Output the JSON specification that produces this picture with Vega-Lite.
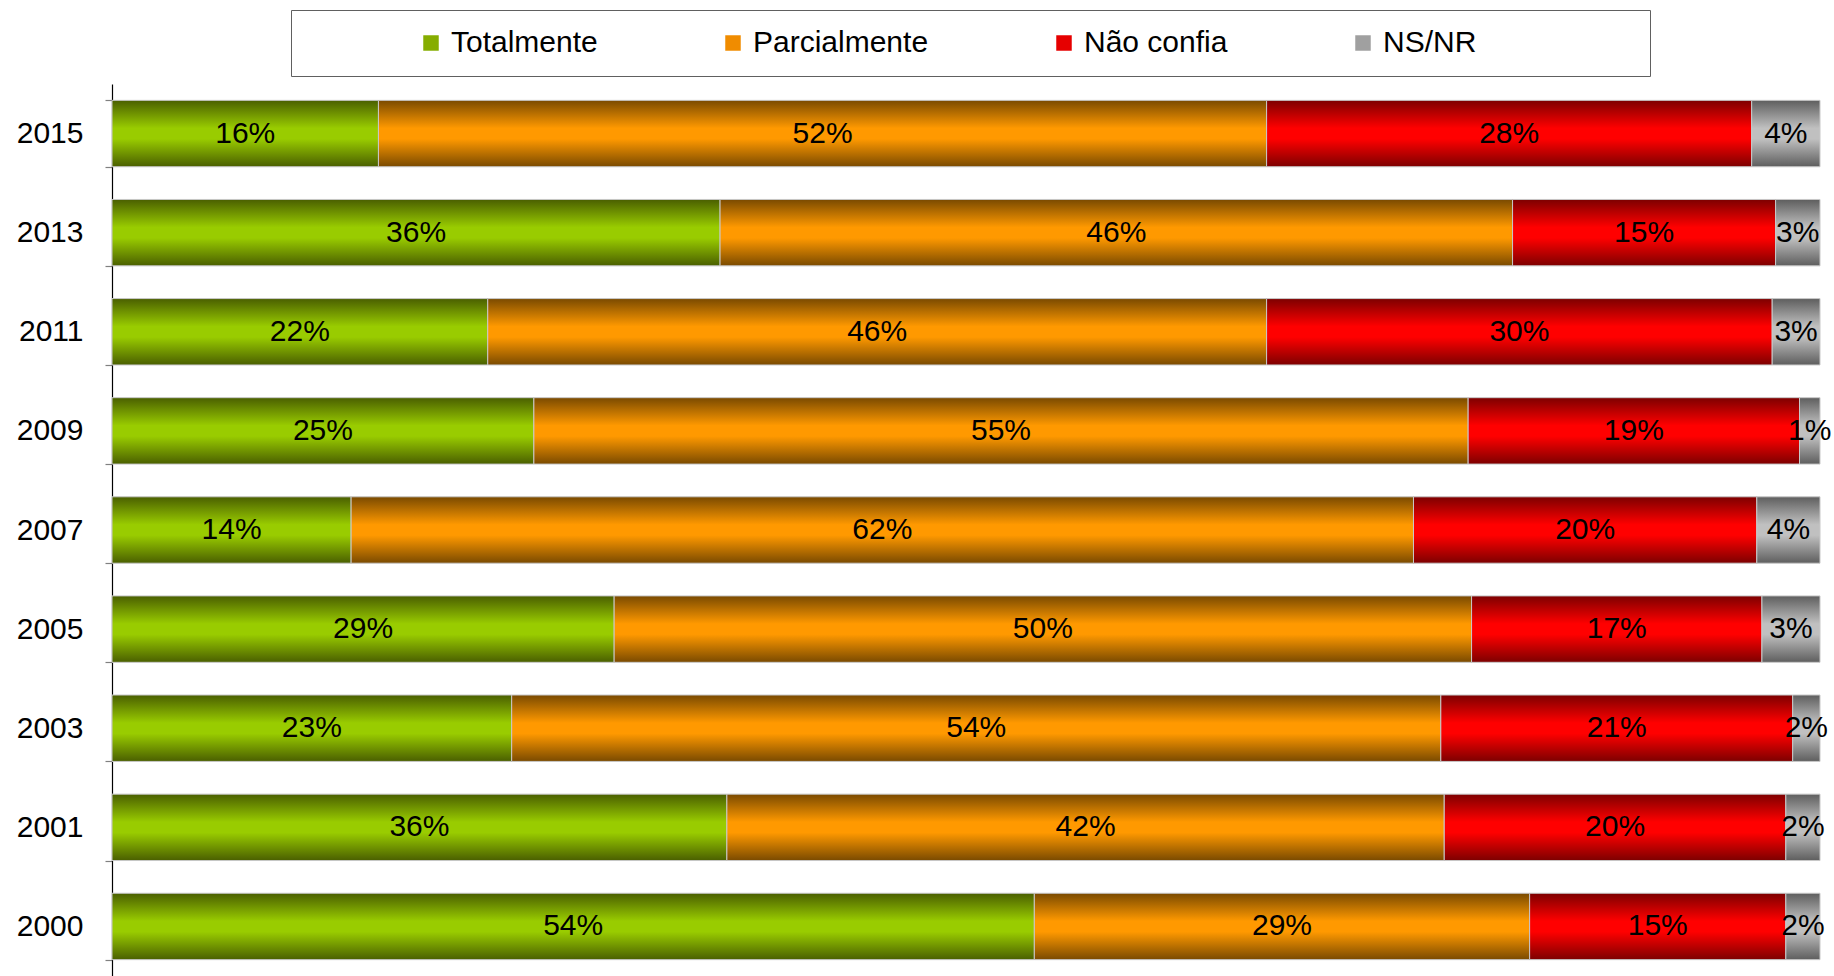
{
  "$schema": "https://vega.github.io/schema/vega-lite/v6.json",
  "autosize": "none",
  "width": 1708,
  "height": 892,
  "padding": {"left": 112, "top": 84, "right": 14, "bottom": 0},
  "background": "white",
  "config": {"view": {"stroke": null}, "font": "Liberation Sans"},
  "data": {"values": [
    {"ano": "2015", "resposta": "Totalmente", "valor": 0.156},
    {"ano": "2015", "resposta": "Parcialmente", "valor": 0.520},
    {"ano": "2015", "resposta": "Não confia", "valor": 0.284},
    {"ano": "2015", "resposta": "NS/NR", "valor": 0.040},
    {"ano": "2013", "resposta": "Totalmente", "valor": 0.356},
    {"ano": "2013", "resposta": "Parcialmente", "valor": 0.464},
    {"ano": "2013", "resposta": "Não confia", "valor": 0.154},
    {"ano": "2013", "resposta": "NS/NR", "valor": 0.026},
    {"ano": "2011", "resposta": "Totalmente", "valor": 0.220},
    {"ano": "2011", "resposta": "Parcialmente", "valor": 0.456},
    {"ano": "2011", "resposta": "Não confia", "valor": 0.296},
    {"ano": "2011", "resposta": "NS/NR", "valor": 0.028},
    {"ano": "2009", "resposta": "Totalmente", "valor": 0.247},
    {"ano": "2009", "resposta": "Parcialmente", "valor": 0.547},
    {"ano": "2009", "resposta": "Não confia", "valor": 0.194},
    {"ano": "2009", "resposta": "NS/NR", "valor": 0.012},
    {"ano": "2007", "resposta": "Totalmente", "valor": 0.140},
    {"ano": "2007", "resposta": "Parcialmente", "valor": 0.622},
    {"ano": "2007", "resposta": "Não confia", "valor": 0.201},
    {"ano": "2007", "resposta": "NS/NR", "valor": 0.037},
    {"ano": "2005", "resposta": "Totalmente", "valor": 0.294},
    {"ano": "2005", "resposta": "Parcialmente", "valor": 0.502},
    {"ano": "2005", "resposta": "Não confia", "valor": 0.170},
    {"ano": "2005", "resposta": "NS/NR", "valor": 0.034},
    {"ano": "2003", "resposta": "Totalmente", "valor": 0.234},
    {"ano": "2003", "resposta": "Parcialmente", "valor": 0.544},
    {"ano": "2003", "resposta": "Não confia", "valor": 0.206},
    {"ano": "2003", "resposta": "NS/NR", "valor": 0.016},
    {"ano": "2001", "resposta": "Totalmente", "valor": 0.360},
    {"ano": "2001", "resposta": "Parcialmente", "valor": 0.420},
    {"ano": "2001", "resposta": "Não confia", "valor": 0.200},
    {"ano": "2001", "resposta": "NS/NR", "valor": 0.020},
    {"ano": "2000", "resposta": "Totalmente", "valor": 0.540},
    {"ano": "2000", "resposta": "Parcialmente", "valor": 0.290},
    {"ano": "2000", "resposta": "Não confia", "valor": 0.150},
    {"ano": "2000", "resposta": "NS/NR", "valor": 0.020}
  ]},
  "transform": [
    {"stack": "valor", "groupby": ["ano"], "offset": "normalize", "sort": [{"field": "resposta", "order": "descending"}], "as": ["v0", "v1"]}
  ],
  "encoding": {
    "y": {
      "field": "ano", "type": "nominal", "sort": "descending", "title": null,
      "scale": {"paddingInner": 0.33, "paddingOuter": 0.165},
      "axis": {
        "domainColor": "#000000", "domainWidth": 1.2,
        "tickColor": "#808080", "tickSize": 7, "tickBand": "extent", "tickWidth": 1.2,
        "labelFont": "Liberation Sans", "labelFontSize": 30, "labelColor": "#000000",
        "labelPadding": 22, "grid": false
      }
    }
  },
  "layer": [
    {
      "transform": [{"filter": "datum.resposta === 'Totalmente'"}],
      "mark": {"type": "bar", "stroke": "#c8c8c8", "strokeWidth": 1,
        "fill": {"gradient": "linear", "x1": 0, "y1": 0, "x2": 0, "y2": 1, "stops": [{"offset": 0, "color": "#4a5f00"}, {"offset": 0.42, "color": "#99cc00"}, {"offset": 0.58, "color": "#99cc00"}, {"offset": 1, "color": "#4a5f00"}]}},
      "encoding": {
        "x": {"field": "v0", "type": "quantitative", "axis": null, "scale": {"domain": [0, 1], "nice": false}},
        "x2": {"field": "v1"},
        "color": {"field": "resposta", "type": "nominal"}
      }
    },
    {
      "transform": [{"filter": "datum.resposta === 'Parcialmente'"}],
      "mark": {"type": "bar", "stroke": "#c8c8c8", "strokeWidth": 1,
        "fill": {"gradient": "linear", "x1": 0, "y1": 0, "x2": 0, "y2": 1, "stops": [{"offset": 0, "color": "#7a4a00"}, {"offset": 0.42, "color": "#ff9900"}, {"offset": 0.58, "color": "#ff9900"}, {"offset": 1, "color": "#7a4a00"}]}},
      "encoding": {
        "x": {"field": "v0", "type": "quantitative"},
        "x2": {"field": "v1"},
        "color": {"field": "resposta", "type": "nominal"}
      }
    },
    {
      "transform": [{"filter": "datum.resposta === 'Não confia'"}],
      "mark": {"type": "bar", "stroke": "#c8c8c8", "strokeWidth": 1,
        "fill": {"gradient": "linear", "x1": 0, "y1": 0, "x2": 0, "y2": 1, "stops": [{"offset": 0, "color": "#7d0000"}, {"offset": 0.42, "color": "#ff0000"}, {"offset": 0.58, "color": "#ff0000"}, {"offset": 1, "color": "#7d0000"}]}},
      "encoding": {
        "x": {"field": "v0", "type": "quantitative"},
        "x2": {"field": "v1"},
        "color": {"field": "resposta", "type": "nominal"}
      }
    },
    {
      "transform": [{"filter": "datum.resposta === 'NS/NR'"}],
      "mark": {"type": "bar", "stroke": "#c8c8c8", "strokeWidth": 1,
        "fill": {"gradient": "linear", "x1": 0, "y1": 0, "x2": 0, "y2": 1, "stops": [{"offset": 0, "color": "#5e5e5e"}, {"offset": 0.42, "color": "#c0c0c0"}, {"offset": 0.58, "color": "#c0c0c0"}, {"offset": 1, "color": "#5e5e5e"}]}},
      "encoding": {
        "x": {"field": "v0", "type": "quantitative"},
        "x2": {"field": "v1"},
        "color": {
          "field": "resposta", "type": "nominal",
          "scale": {"domain": ["Totalmente", "Parcialmente", "Não confia", "NS/NR", ""], "range": ["#86ad00", "#f08c00", "#e60000", "#a0a0a0", "transparent"]},
          "legend": {
            "orient": "none", "legendX": 179, "legendY": -74,
            "direction": "horizontal", "columns": 5, "gridAlign": "none",
            "title": " ", "titleOrient": "left", "titleFontSize": 1, "titlePadding": 107,
            "padding": 18, "strokeColor": "#606060",
            "symbolType": "square", "symbolSize": 240, "symbolStrokeWidth": 0,
            "labelFont": "Liberation Sans", "labelFontSize": 30, "labelColor": "#000000",
            "labelOffset": 5, "columnPadding": 120, "labelLimit": 400
          }
        }
      }
    },
    {
      "mark": {"type": "text", "font": "Liberation Sans", "fontSize": 30, "color": "#000000", "baseline": "middle", "align": "center"},
      "encoding": {
        "x": {"field": "valor", "type": "quantitative", "stack": "normalize", "bandPosition": 0.5},
        "detail": {"field": "resposta"},
        "order": {"field": "resposta", "sort": "descending"},
        "text": {"field": "valor", "type": "quantitative", "format": ".0%"}
      }
    }
  ]
}
